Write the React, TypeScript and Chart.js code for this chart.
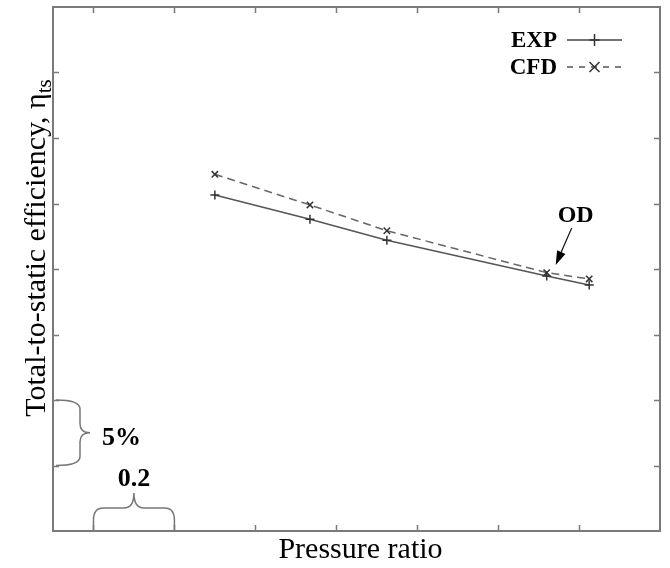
import React, { useEffect, useRef } from "react";
import { Chart, registerables } from "chart.js";

Chart.register(...registerables);

// Pressure ratio (x) and total-to-static efficiency (y)
const expPressure = [1.9, 2.135, 2.325, 2.72, 2.825];
const expEfficiency = [0.7065, 0.688, 0.672, 0.6447, 0.6378];
const cfdPressure = [1.9, 2.135, 2.325, 2.72, 2.825];
const cfdEfficiency = [0.7223, 0.6989, 0.6792, 0.6472, 0.6424];

const xTicks = [1.6, 1.8, 2.0, 2.2, 2.4, 2.6, 2.8];
const yTicks = [0.5, 0.55, 0.6, 0.65, 0.7, 0.75, 0.8];
const xMin = 1.5;
const xMax = 3.0;
const yMin = 0.45;
const yMax = 0.85;

const seriesLabels = ["EXP", "CFD"];
const xTitle = "Pressure ratio";
const yTitle = "Total-to-static efficiency, η";
const yTitleSub = "ts";
const odLabel = "OD";
const odIndex = 3;
const yScaleLabel = "5%";
const xScaleLabel = "0.2";

const SERIF = "'Liberation Serif', 'Times New Roman', serif";
const AXIS_COLOR = "#7a7a7a";

function vBrace(ctx: CanvasRenderingContext2D, x0: number, y1: number, y2: number, spine: number, tip: number, r: number) {
  const ym = (y1 + y2) / 2;
  ctx.beginPath();
  ctx.moveTo(x0, y1);
  ctx.quadraticCurveTo(spine, y1, spine, y1 + r);
  ctx.lineTo(spine, ym - r);
  ctx.quadraticCurveTo(spine, ym, tip, ym);
  ctx.quadraticCurveTo(spine, ym, spine, ym + r);
  ctx.lineTo(spine, y2 - r);
  ctx.quadraticCurveTo(spine, y2, x0, y2);
  ctx.stroke();
}

function hBrace(ctx: CanvasRenderingContext2D, y0: number, x1: number, x2: number, spine: number, tip: number, r: number) {
  const xm = (x1 + x2) / 2;
  ctx.beginPath();
  ctx.moveTo(x1, y0);
  ctx.lineTo(x1, spine + r + 2);
  ctx.quadraticCurveTo(x1, spine, x1 + r, spine);
  ctx.lineTo(xm - r, spine);
  ctx.quadraticCurveTo(xm, spine, xm, tip);
  ctx.quadraticCurveTo(xm, spine, xm + r, spine);
  ctx.lineTo(x2 - r, spine);
  ctx.quadraticCurveTo(x2, spine, x2, spine + r + 2);
  ctx.lineTo(x2, y0);
  ctx.stroke();
}

const framePlugin = {
  id: "framePlugin",
  beforeDatasetsDraw(chart: any) {
    const { ctx, chartArea: a, scales } = chart;
    const xs = scales.x;
    const ys = scales.y;
    ctx.save();
    ctx.strokeStyle = AXIS_COLOR;
    ctx.lineWidth = 1.5;
    const tl = 6;
    xTicks.forEach((v) => {
      const px = Math.round(xs.getPixelForValue(v)) + 0.5;
      ctx.beginPath();
      ctx.moveTo(px, a.bottom);
      ctx.lineTo(px, a.bottom - tl);
      ctx.moveTo(px, a.top);
      ctx.lineTo(px, a.top + tl);
      ctx.stroke();
    });
    yTicks.forEach((v) => {
      const py = Math.round(ys.getPixelForValue(v)) + 0.5;
      ctx.beginPath();
      ctx.moveTo(a.left, py);
      ctx.lineTo(a.left + tl, py);
      ctx.moveTo(a.right, py);
      ctx.lineTo(a.right - tl, py);
      ctx.stroke();
    });
    ctx.lineWidth = 2;
    ctx.strokeRect(a.left, a.top, a.right - a.left, a.bottom - a.top);
    ctx.restore();
  },
  afterDraw(chart: any) {
    const { ctx, chartArea: a, scales } = chart;
    const xs = scales.x;
    const ys = scales.y;
    ctx.save();

    // x title
    ctx.fillStyle = "#000";
    ctx.font = `30px ${SERIF}`;
    ctx.textAlign = "center";
    ctx.textBaseline = "alphabetic";
    ctx.fillText(xTitle, (a.left + a.right) / 2 + 4, a.bottom + 27);

    // y title (rotated) with subscript
    ctx.save();
    ctx.translate(45, 0);
    ctx.rotate(-Math.PI / 2);
    ctx.font = `30px ${SERIF}`;
    const mainW = ctx.measureText(yTitle).width;
    ctx.font = `21px ${SERIF}`;
    const subW = ctx.measureText(yTitleSub).width;
    const total = mainW + subW;
    const centerY = 248;
    const startX = -centerY - total / 2;
    ctx.textAlign = "left";
    ctx.font = `30px ${SERIF}`;
    ctx.fillText(yTitle, startX, 0);
    ctx.font = `21px ${SERIF}`;
    ctx.fillText(yTitleSub, startX + mainW, 6);
    ctx.restore();

    // Legend
    const legendY = [a.top + 33, a.top + 60];
    const textRight = a.right - 103;
    const lineL = a.right - 93;
    const lineR = a.right - 38;
    const mid = (lineL + lineR) / 2;
    ctx.font = `bold 23px ${SERIF}`;
    ctx.textAlign = "right";
    ctx.textBaseline = "middle";
    seriesLabels.forEach((lab, i) => {
      ctx.fillStyle = "#000";
      ctx.fillText(lab, textRight, legendY[i] + 1);
      ctx.strokeStyle = i === 0 ? "#444" : "#555";
      ctx.lineWidth = 1.5;
      ctx.setLineDash(i === 0 ? [] : [6, 6]);
      ctx.beginPath();
      ctx.moveTo(lineL, legendY[i]);
      ctx.lineTo(lineR, legendY[i]);
      ctx.stroke();
      ctx.setLineDash([]);
      ctx.strokeStyle = "#333";
      ctx.beginPath();
      if (i === 0) {
        ctx.moveTo(mid - 5, legendY[i]);
        ctx.lineTo(mid + 5, legendY[i]);
        ctx.moveTo(mid, legendY[i] - 6);
        ctx.lineTo(mid, legendY[i] + 6);
      } else {
        ctx.moveTo(mid - 5, legendY[i] - 5);
        ctx.lineTo(mid + 5, legendY[i] + 5);
        ctx.moveTo(mid + 5, legendY[i] - 5);
        ctx.lineTo(mid - 5, legendY[i] + 5);
      }
      ctx.stroke();
    });

    // OD annotation
    const px = xs.getPixelForValue(expPressure[odIndex]);
    const py = ys.getPixelForValue(expEfficiency[odIndex]);
    ctx.fillStyle = "#000";
    ctx.font = `bold 24px ${SERIF}`;
    ctx.textAlign = "center";
    ctx.textBaseline = "alphabetic";
    ctx.fillText(odLabel, px + 29, py - 54);
    const sx = px + 25, sy = py - 48, ex = px + 9, ey = py - 11;
    const ang = Math.atan2(ey - sy, ex - sx);
    ctx.strokeStyle = "#111";
    ctx.lineWidth = 1.2;
    ctx.beginPath();
    ctx.moveTo(sx, sy);
    ctx.lineTo(ex - 8 * Math.cos(ang), ey - 8 * Math.sin(ang));
    ctx.stroke();
    ctx.beginPath();
    ctx.moveTo(ex, ey);
    ctx.lineTo(ex - 14 * Math.cos(ang) + 4.5 * Math.sin(ang), ey - 14 * Math.sin(ang) - 4.5 * Math.cos(ang));
    ctx.lineTo(ex - 14 * Math.cos(ang) - 4.5 * Math.sin(ang), ey - 14 * Math.sin(ang) + 4.5 * Math.cos(ang));
    ctx.closePath();
    ctx.fill();

    // Scale braces
    ctx.strokeStyle = "#777";
    ctx.lineWidth = 1.5;
    const yb1 = ys.getPixelForValue(yTicks[1]);
    const yb2 = ys.getPixelForValue(yTicks[0]);
    vBrace(ctx, a.left + 3, yb1, yb2, a.left + 27, a.left + 37, 9);
    ctx.fillStyle = "#000";
    ctx.font = `bold 26px ${SERIF}`;
    ctx.textAlign = "left";
    ctx.textBaseline = "alphabetic";
    ctx.fillText(yScaleLabel, a.left + 49, (yb1 + yb2) / 2 + 12);

    const xb1 = xs.getPixelForValue(xTicks[0]);
    const xb2 = xs.getPixelForValue(xTicks[1]);
    ctx.strokeStyle = "#777";
    hBrace(ctx, a.bottom - 1, xb1, xb2, a.bottom - 23, a.bottom - 38, 10);
    ctx.fillStyle = "#000";
    ctx.textAlign = "center";
    ctx.fillText(xScaleLabel, (xb1 + xb2) / 2, a.bottom - 45);

    ctx.restore();
  },
};

export default function App() {
  const ref = useRef<HTMLCanvasElement | null>(null);
  useEffect(() => {
    document.body.style.margin = "0";
    const canvas = ref.current;
    if (!canvas) return;
    const chart = new Chart(canvas, {
      type: "line",
      data: {
        datasets: [
          {
            label: seriesLabels[0],
            data: expPressure.map((x, i) => ({ x, y: expEfficiency[i] })),
            borderColor: "#555",
            borderWidth: 1.5,
            pointStyle: "cross",
            pointRadius: 4.5,
            pointBorderColor: "#333",
            pointBorderWidth: 1.5,
            tension: 0,
          },
          {
            label: seriesLabels[1],
            data: cfdPressure.map((x, i) => ({ x, y: cfdEfficiency[i] })),
            borderColor: "#666",
            borderWidth: 1.5,
            borderDash: [8, 5],
            pointStyle: "crossRot",
            pointRadius: 4.5,
            pointBorderColor: "#333",
            pointBorderWidth: 1.5,
            tension: 0,
          },
        ],
      },
      options: {
        responsive: false,
        animation: false,
        devicePixelRatio: 1,
        layout: { padding: { left: 53, top: 7, right: 10, bottom: 37 } },
        plugins: { legend: { display: false }, tooltip: { enabled: false } },
        scales: {
          x: { type: "linear", min: xMin, max: xMax, display: false },
          y: { type: "linear", min: yMin, max: yMax, display: false },
        },
      },
      plugins: [framePlugin],
    });
    return () => chart.destroy();
  }, []);
  return (
    <div style={{ width: 670, height: 568, background: "#fff" }}>
      <canvas ref={ref} width={670} height={568} style={{ display: "block" }} />
    </div>
  );
}
